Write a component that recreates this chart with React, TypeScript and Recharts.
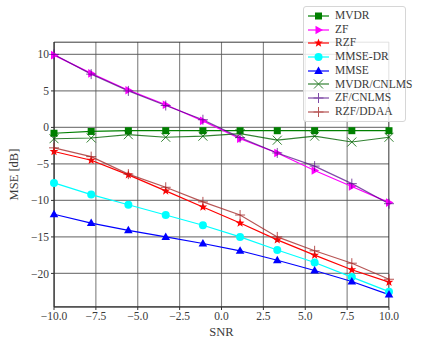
import React from "react";
import { CartesianGrid, Legend, Line, LineChart, ReferenceArea, XAxis, YAxis } from "recharts";

const snr = [-10, -7.78, -5.56, -3.33, -1.11, 1.11, 3.33, 5.56, 7.78, 10];
const mvdr = [-0.8, -0.55, -0.45, -0.45, -0.45, -0.45, -0.45, -0.45, -0.45, -0.45];
const zf = [9.9, 7.4, 5.1, 3.1, 0.9, -1.55, -3.5, -5.9, -8.1, -10.3];
const rzf = [-3.3, -4.5, -6.5, -8.7, -10.9, -13.1, -15.4, -17.5, -19.5, -21.2];
const mmseDr = [-7.6, -9.2, -10.6, -12.0, -13.4, -15.0, -16.8, -18.5, -20.5, -22.5];
const mmse = [-11.9, -13.1, -14.1, -15.0, -15.9, -16.9, -18.2, -19.6, -21.1, -22.9];
const mvdrCnlms = [-1.55, -1.45, -1.0, -1.35, -1.2, -0.85, -1.75, -1.2, -2.0, -1.35];
const zfCnlms = [10.0, 7.3, 5.0, 3.0, 1.05, -1.4, -3.5, -5.3, -7.7, -10.45];
const rzfDdaa = [-2.8, -4.0, -6.4, -8.2, -10.2, -12.0, -15.0, -16.9, -18.6, -20.8];

const xTicks = [-10, -7.5, -5, -2.5, 0, 2.5, 5, 7.5, 10];
const yTicks = [-20, -15, -10, -5, 0, 5, 10];

type Shape = "square" | "triRight" | "star" | "circle" | "triUp" | "x" | "plus";

const series: { key: string; name: string; values: number[]; color: string; shape: Shape; opacity?: number }[] = [
  { key: "mvdr", name: "MVDR", values: mvdr, color: "#008000", shape: "square" },
  { key: "zf", name: "ZF", values: zf, color: "#ff00ff", shape: "triRight" },
  { key: "rzf", name: "RZF", values: rzf, color: "#ff0000", shape: "star" },
  { key: "mmseDr", name: "MMSE-DR", values: mmseDr, color: "#00ffff", shape: "circle" },
  { key: "mmse", name: "MMSE", values: mmse, color: "#0000ff", shape: "triUp" },
  { key: "mvdrCnlms", name: "MVDR/CNLMS", values: mvdrCnlms, color: "#006400", shape: "x", opacity: 0.8 },
  { key: "zfCnlms", name: "ZF/CNLMS", values: zfCnlms, color: "#4b0082", shape: "plus", opacity: 0.7 },
  { key: "rzfDdaa", name: "RZF/DDAA", values: rzfDdaa, color: "#a52a2a", shape: "plus", opacity: 0.8 },
];

const data = snr.map((x, i) => {
  const row: Record<string, number> = { snr: x };
  series.forEach((s) => (row[s.key] = s.values[i]));
  return row;
});

const FONT = "'Liberation Serif', serif";
const INK = "#3a3a3a";
const fmt = (v: number, d: number) => (v < 0 ? "\u2212" : "") + Math.abs(v).toFixed(d);

function Marker({ cx, cy, shape, color }: { cx: number; cy: number; shape: Shape; color: string }) {
  switch (shape) {
    case "square":
      return <rect x={cx - 3.5} y={cy - 3.5} width={7} height={7} fill={color} />;
    case "triRight":
      return <polygon points={`${cx + 4.5},${cy} ${cx - 3},${cy - 4.3} ${cx - 3},${cy + 4.3}`} fill={color} />;
    case "triUp":
      return <polygon points={`${cx},${cy - 4.5} ${cx - 4.3},${cy + 3} ${cx + 4.3},${cy + 3}`} fill={color} />;
    case "circle":
      return <circle cx={cx} cy={cy} r={4} fill={color} />;
    case "star": {
      const pts: string[] = [];
      for (let k = 0; k < 10; k++) {
        const r = k % 2 === 0 ? 4.6 : 1.9;
        const a = -Math.PI / 2 + (k * Math.PI) / 5;
        pts.push(`${cx + r * Math.cos(a)},${cy + r * Math.sin(a)}`);
      }
      return <polygon points={pts.join(" ")} fill={color} />;
    }
    case "x":
      return (
        <g stroke={color} strokeWidth={1}>
          <line x1={cx - 4.5} y1={cy - 4.5} x2={cx + 4.5} y2={cy + 4.5} />
          <line x1={cx - 4.5} y1={cy + 4.5} x2={cx + 4.5} y2={cy - 4.5} />
        </g>
      );
    default:
      return (
        <g stroke={color} strokeWidth={1}>
          <line x1={cx - 5} y1={cy} x2={cx + 5} y2={cy} />
          <line x1={cx} y1={cy - 5} x2={cx} y2={cy + 5} />
        </g>
      );
  }
}

function LegendBox() {
  return (
    <div
      style={{
        background: "rgba(255,255,255,0.85)",
        border: "1px solid #d6d6d6",
        borderRadius: 3,
        padding: "2px 4px",
        fontFamily: FONT,
        fontSize: 11.5,
        color: INK,
        lineHeight: 1,
      }}
    >
      {series.map((s) => (
        <div key={s.key} style={{ display: "flex", alignItems: "center", height: 13.7 }}>
          <svg width={21} height={12} style={{ marginRight: 6, overflow: "visible", opacity: s.opacity ?? 1 }}>
            <line x1={0} y1={6} x2={21} y2={6} stroke={s.color} strokeWidth={1.2} />
            <Marker cx={10.5} cy={6} shape={s.shape} color={s.color} />
          </svg>
          <span style={{ fontFamily: FONT }}>{s.name}</span>
        </div>
      ))}
    </div>
  );
}

export default function App() {
  return (
    <div style={{ position: "absolute", left: 0, top: 0, width: 432, height: 346, background: "#fff" }}>
      <style>{`body{margin:0}`}</style>
      <LineChart width={432} height={346} data={data} margin={{ top: 42, right: 43, bottom: 9, left: 0 }}>
        <CartesianGrid stroke="#555" strokeOpacity={0.75} strokeWidth={1.1} />
        <XAxis
          dataKey="snr"
          type="number"
          domain={[-10, 10]}
          ticks={xTicks}
          tickFormatter={(v: number) => fmt(v, 1)}
          height={30}
          stroke="#333"
          tickSize={3}
          tick={{ fontFamily: FONT, fontSize: 11.5, fill: INK }}
          label={{ value: "SNR", position: "insideBottom", offset: 1, fontFamily: FONT, fontSize: 12.5, fill: INK }}
        />
        <YAxis
          type="number"
          domain={[-24.6, 11.7]}
          ticks={yTicks}
          tickFormatter={(v: number) => fmt(v, 0)}
          width={54}
          stroke="#333"
          tickSize={3}
          tick={{ fontFamily: FONT, fontSize: 11.5, fill: INK }}
          label={{
            value: "MSE [dB]",
            angle: -90,
            position: "insideLeft",
            offset: 14,
            style: { textAnchor: "middle" },
            fontFamily: FONT,
            fontSize: 12.5,
            fill: INK,
          }}
        />
        <ReferenceArea x1={-10} x2={10} y1={-24.6} y2={11.7} fill="none" stroke="#333" strokeWidth={1} ifOverflow="hidden" />
        {series.map((s) => (
          <Line
            key={s.key}
            dataKey={s.key}
            name={s.name}
            stroke={s.color}
            strokeOpacity={s.opacity ?? 1}
            strokeWidth={1.2}
            isAnimationActive={false}
            dot={(p: any) => (
              <g key={`${s.key}-${p.index}`} opacity={s.opacity ?? 1}>
                <Marker cx={p.cx} cy={p.cy} shape={s.shape} color={s.color} />
              </g>
            )}
            activeDot={false}
          />
        ))}
        <Legend
          layout="horizontal"
          verticalAlign="middle"
          align="center"
          wrapperStyle={{ top: 6, left: 303, width: 103, height: 113 }}
          content={() => <LegendBox />}
        />
      </LineChart>
    </div>
  );
}
